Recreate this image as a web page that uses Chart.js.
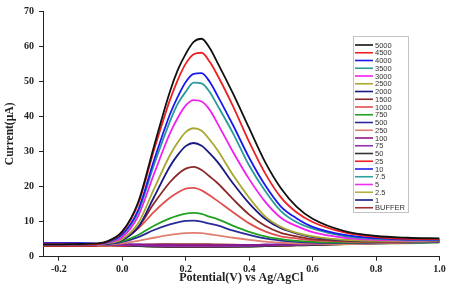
<!DOCTYPE html>
<html>
<head>
<meta charset="utf-8">
<script src="https://cdn.jsdelivr.net/npm/chart.js"></script>
<style>
  body { margin: 0; background: #fff; }
  #wrap { width: 451px; height: 285px; position: relative; }
</style>
</head>
<body>
<div id="wrap"><canvas id="graficoDPV" width="451" height="285"></canvas></div>
<script>
// Potencial (V) - eixo x
const potential = [-0.25, -0.2, -0.15, -0.1, -0.05, 0, 0.05, 0.1, 0.15, 0.175, 0.2, 0.225, 0.25, 0.275, 0.3, 0.35, 0.4, 0.45, 0.5, 0.55, 0.6, 0.7, 0.8, 0.9, 1.0];

// Concentracoes (legenda)
const concentrations = ['5000', '4500', '4000', '3500', '3000', '2500', '2000', '1500', '1000', '750', '500', '250', '100', '75', '50', '25', '10', '7.5', '5', '2.5', '1', 'BUFFER'];

// Corrente (uA) para cada concentracao
const cur5000 = [3.5, 3.5, 3.6, 3.7, 4.3, 7.2, 15.5, 31.5, 47.0, 53.2, 57.8, 61.2, 62.1, 59.5, 55.3, 46.3, 36.6, 27.0, 19.5, 14.2, 10.8, 7.3, 5.9, 5.4, 5.2];
const cur4500 = [3.5, 3.5, 3.5, 3.5, 4.2, 7.0, 15.0, 30.4, 44.6, 50.4, 55.0, 57.7, 58.1, 55.6, 51.7, 42.7, 32.7, 23.8, 16.9, 12.6, 9.9, 6.9, 5.6, 5.1, 5.0];
const cur4000 = [3.5, 3.5, 3.5, 3.5, 4.1, 6.4, 13.3, 27.5, 40.5, 45.6, 49.8, 52.1, 52.3, 49.9, 45.9, 37.3, 28.2, 20.4, 14.3, 10.9, 8.5, 6.2, 5.3, 4.9, 4.9];
const cur3500 = [3.5, 3.5, 3.5, 3.5, 4.0, 6.2, 12.8, 26.2, 38.5, 43.6, 47.0, 49.6, 49.4, 47.0, 43.1, 35.0, 26.0, 18.8, 13.0, 9.8, 8.0, 5.9, 5.1, 4.8, 4.8];
const cur3000 = [3.5, 3.5, 3.5, 3.5, 3.9, 5.6, 11.6, 23.6, 35.1, 39.6, 43.1, 44.6, 44.2, 41.9, 38.0, 29.7, 22.1, 15.7, 11.1, 8.7, 7.0, 5.4, 4.8, 4.6, 4.7];
const cur2500 = [3.5, 3.5, 3.5, 3.5, 3.8, 5.0, 9.5, 19.3, 28.9, 32.6, 35.5, 36.6, 35.9, 33.4, 30.4, 23.1, 16.8, 11.5, 8.5, 6.8, 5.8, 4.8, 4.5, 4.4, 4.6];
const cur2000 = [3.5, 3.5, 3.5, 3.5, 3.7, 4.7, 8.4, 17.0, 25.7, 29.0, 31.5, 32.4, 31.6, 29.5, 27.0, 20.8, 15.2, 10.8, 8.1, 6.6, 5.6, 4.7, 4.5, 4.4, 4.6];
const cur1500 = [3.4, 3.4, 3.4, 3.5, 3.8, 4.9, 8.4, 15.2, 21.2, 23.5, 25.1, 25.6, 24.7, 22.9, 21.0, 16.3, 12.0, 8.8, 6.8, 5.8, 5.0, 4.5, 4.3, 4.4, 4.6];
const cur1000 = [3.4, 3.4, 3.4, 3.5, 3.8, 5.0, 8.0, 12.8, 16.8, 18.3, 19.4, 19.6, 18.9, 17.5, 15.9, 12.6, 9.5, 7.2, 5.8, 5.2, 4.7, 4.3, 4.2, 4.3, 4.5];
const cur750 = [3.5, 3.5, 3.5, 3.5, 3.7, 4.4, 6.2, 8.8, 10.9, 11.7, 12.3, 12.5, 12.2, 11.4, 10.7, 8.8, 7.1, 5.8, 5.0, 4.5, 4.2, 4.0, 4.1, 4.2, 4.5];
const cur500 = [3.6, 3.6, 3.6, 3.6, 3.6, 4.2, 5.6, 7.6, 9.2, 9.8, 10.2, 10.3, 10.0, 9.4, 8.9, 7.4, 6.2, 5.2, 4.6, 4.2, 4.0, 3.9, 4.0, 4.2, 4.4];
const cur250 = [3.3, 3.3, 3.3, 3.3, 3.5, 3.8, 4.5, 5.4, 6.2, 6.5, 6.7, 6.8, 6.7, 6.4, 6.1, 5.4, 4.8, 4.3, 4.0, 3.8, 3.7, 3.6, 3.8, 4.1, 4.4];
const cur100 = [3.7, 3.7, 3.7, 3.6, 3.6, 3.5, 3.5, 3.4, 3.4, 3.3, 3.3, 3.3, 3.3, 3.3, 3.3, 3.3, 3.3, 3.4, 3.5, 3.6, 3.7, 3.9, 4.1, 4.3, 4.6];
const cur75 = [3.5, 3.5, 3.5, 3.5, 3.4, 3.3, 3.2, 3.1, 3.0, 3.0, 3.0, 3.0, 3.0, 3.0, 3.0, 3.0, 3.1, 3.2, 3.3, 3.4, 3.5, 3.7, 3.9, 4.1, 4.4];
const cur50 = [3.4, 3.4, 3.4, 3.4, 3.3, 3.2, 3.0, 2.9, 2.8, 2.8, 2.8, 2.8, 2.8, 2.8, 2.8, 2.8, 2.9, 3.0, 3.1, 3.2, 3.3, 3.6, 3.8, 4.0, 4.2];
const cur25 = [3.2, 3.2, 3.2, 3.2, 3.2, 3.1, 3.0, 3.0, 2.9, 2.9, 2.9, 2.9, 2.9, 2.9, 2.9, 3.0, 3.0, 3.1, 3.2, 3.3, 3.4, 3.7, 4.0, 4.4, 4.8];
const cur10 = [3.9, 3.9, 3.9, 3.8, 3.7, 3.6, 3.4, 3.3, 3.2, 3.15, 3.1, 3.1, 3.1, 3.1, 3.1, 3.2, 3.3, 3.4, 3.5, 3.6, 3.7, 3.9, 4.0, 4.2, 4.3];
const cur7_5 = [3.6, 3.6, 3.6, 3.6, 3.5, 3.4, 3.2, 3.1, 3.0, 3.0, 3.0, 3.0, 3.0, 3.0, 3.0, 3.0, 3.1, 3.2, 3.3, 3.4, 3.5, 3.6, 3.8, 3.9, 4.1];
const cur5 = [3.5, 3.5, 3.5, 3.5, 3.4, 3.3, 3.1, 3.0, 2.9, 2.9, 2.9, 2.9, 2.9, 2.9, 2.9, 3.0, 3.0, 3.1, 3.2, 3.3, 3.4, 3.6, 3.8, 4.0, 4.2];
const cur2_5 = [3.3, 3.3, 3.3, 3.3, 3.2, 3.1, 3.0, 2.9, 2.8, 2.8, 2.8, 2.8, 2.8, 2.8, 2.8, 2.8, 2.9, 3.0, 3.1, 3.2, 3.3, 3.5, 3.7, 3.8, 4.0];
const cur1 = [3.8, 3.8, 3.8, 3.7, 3.6, 3.4, 3.1, 2.9, 2.8, 2.75, 2.7, 2.7, 2.7, 2.7, 2.7, 2.8, 2.9, 3.0, 3.2, 3.3, 3.5, 3.7, 3.9, 4.0, 4.2];
const curBuffer = [3.0, 3.0, 3.0, 3.0, 3.1, 3.2, 3.4, 3.5, 3.6, 3.6, 3.6, 3.6, 3.6, 3.55, 3.5, 3.4, 3.3, 3.2, 3.2, 3.3, 3.4, 3.7, 4.1, 4.6, 5.0];

const currents = [cur5000, cur4500, cur4000, cur3500, cur3000, cur2500, cur2000, cur1500, cur1000, cur750, cur500, cur250,
    cur100, cur75, cur50, cur25, cur10, cur7_5, cur5, cur2_5, cur1, curBuffer];

// Rotulos dos eixos
const xTicks = [-0.2, 0.0, 0.2, 0.4, 0.6, 0.8, 1.0];
const yTicks = [0, 10, 20, 30, 40, 50, 60, 70];

// Cores das linhas (estilo Origin)
const lineColors = ['#111111', '#ee2020', '#1a1aee', '#2a9a9a', '#f020f0', '#a8a830', '#1a1a80', '#8a2a2a', '#e05050', '#22a022', '#2a2a9a', '#e08070',
    '#8a1a8a', '#9030b0', '#333333', '#ee2020', '#2020ee', '#30a0a0', '#f030f0', '#b0b040', '#1a1a80', '#a03030'];

const serif = "'Liberation Serif', 'Times New Roman', serif";

// Legenda desenhada dentro do grafico, com caixa
const legendaCaixa = {
    id: 'legendaCaixa',
    afterDraw(chart) {
        const ctx = chart.ctx;
        const x0 = 353.5, y0 = 36.5, w = 55, h = 176;
        ctx.save();
        ctx.fillStyle = '#fff';
        ctx.fillRect(x0, y0, w, h);
        ctx.strokeStyle = '#c4c4c4';
        ctx.lineWidth = 1;
        ctx.strokeRect(x0, y0, w, h);
        ctx.font = "7.5px 'Liberation Sans', Arial, sans-serif";
        ctx.textBaseline = 'middle';
        chart.data.datasets.forEach((ds, i) => {
            const y = 45 + i * 7.75;
            ctx.strokeStyle = ds.borderColor;
            ctx.lineWidth = 1.6;
            ctx.beginPath();
            ctx.moveTo(355, y);
            ctx.lineTo(373, y);
            ctx.stroke();
            ctx.fillStyle = '#333';
            ctx.fillText(ds.label, 375, y + 0.5);
        });
        ctx.restore();
    }
};

new Chart(document.getElementById('graficoDPV'), {
    type: 'line',
    data: {
        datasets: concentrations.map((c, i) => ({
            label: c,
            data: potential.map((x, j) => ({ x: x, y: currents[i][j] })),
            borderColor: lineColors[i],
            borderWidth: 1.8,
            pointRadius: 0,
            fill: false,
            cubicInterpolationMode: 'monotone'
        }))
    },
    options: {
        responsive: false,
        animation: false,
        devicePixelRatio: 1,
        layout: { padding: { left: 0, right: 11.5, top: 5, bottom: 0 } },
        plugins: {
            legend: { display: false },
            tooltip: { enabled: false }
        },
        scales: {
            x: {
                type: 'linear',
                min: -0.25,
                max: 1.0,
                afterFit: (scale) => { scale.height = 28.3; },
                afterBuildTicks: (scale) => { scale.ticks = xTicks.map(v => ({ value: v })); },
                grid: { display: true, drawOnChartArea: false, drawTicks: true, tickLength: 4, color: '#222' },
                border: { display: true, color: '#222', width: 1 },
                ticks: {
                    padding: 3,
                    color: '#222',
                    font: { family: serif, size: 10, weight: 'bold' },
                    callback: (v) => v.toFixed(1)
                },
                title: {
                    display: true,
                    text: 'Potential(V) vs Ag/AgCl',
                    color: '#222',
                    font: { family: serif, size: 12, weight: 'bold', lineHeight: 1 },
                    padding: { top: 0, bottom: 1.5 }
                }
            },
            y: {
                min: 0,
                max: 70,
                afterFit: (scale) => { scale.width = 43; },
                afterBuildTicks: (scale) => { scale.ticks = yTicks.map(v => ({ value: v })); },
                grid: { display: true, drawOnChartArea: false, drawTicks: true, tickLength: 4, color: '#222' },
                border: { display: true, color: '#222', width: 1 },
                ticks: {
                    padding: 5,
                    color: '#222',
                    font: { family: serif, size: 10, weight: 'bold' }
                },
                title: {
                    display: true,
                    text: 'Current(µA)',
                    color: '#222',
                    font: { family: serif, size: 11.5, weight: 'bold', lineHeight: 1 },
                    padding: { top: 4.5, bottom: 0 }
                }
            }
        }
    },
    plugins: [legendaCaixa]
});
</script>
</body>
</html>
